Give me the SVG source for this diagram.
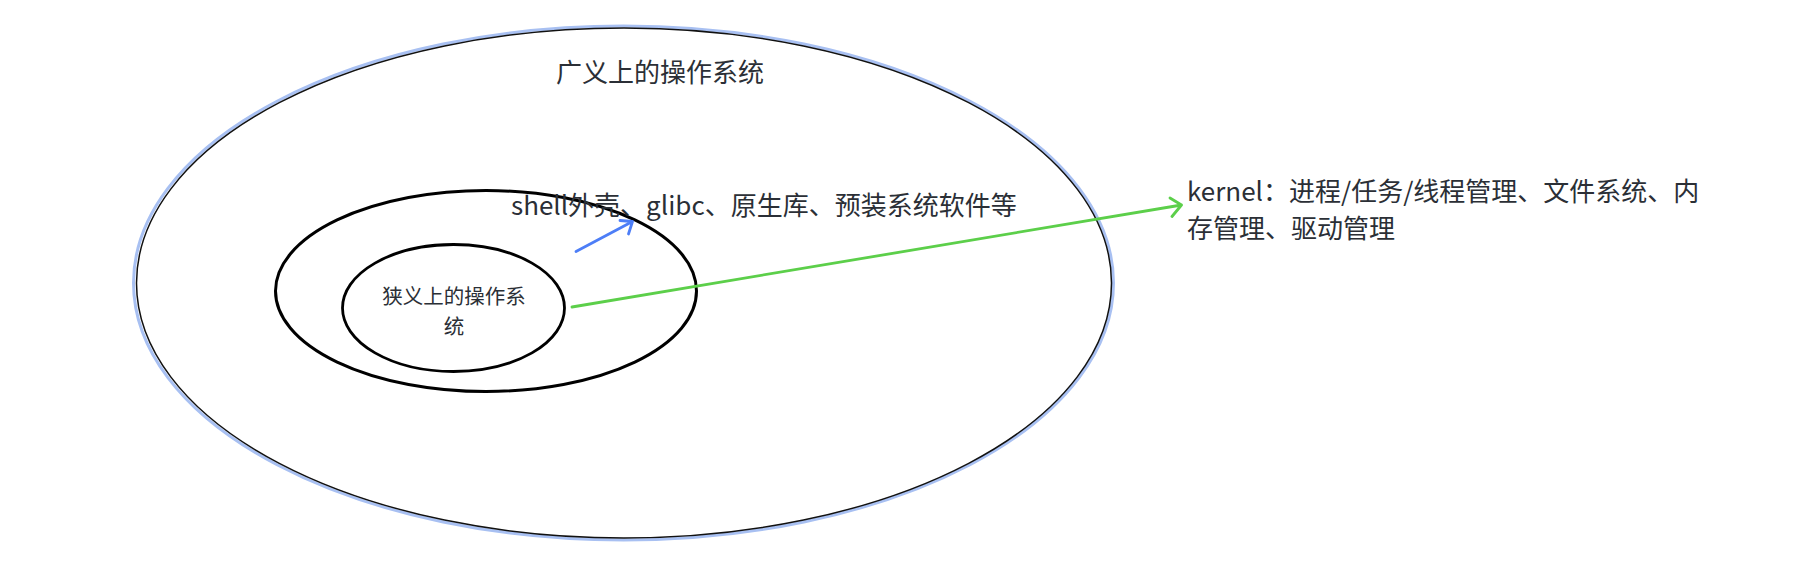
<svg xmlns="http://www.w3.org/2000/svg" width="1819" height="565" viewBox="0 0 1819 565">
<style>
text{font-family:"Noto Sans CJK SC","Noto Sans",sans-serif;fill:#2b2f36;dominant-baseline:central}
.big{font-size:26px}
.small{font-size:20.5px}
.conn{fill:none;stroke-width:2.8;stroke-linecap:round;stroke-linejoin:round}
</style>
<rect width="1819" height="565" fill="#ffffff"/>
<g id="outer">
<ellipse cx="623.5" cy="283" rx="490" ry="257" fill="none" stroke="#a8c0f2" stroke-width="3"/>
<ellipse cx="624" cy="283" rx="487.5" ry="255" fill="none" stroke="#111111" stroke-width="1.5"/>
<text class="big" x="660" y="70" text-anchor="middle">广义上的操作系统</text>
</g>
<g id="middle">
<ellipse cx="486" cy="291" rx="210.5" ry="100.5" fill="none" stroke="#000000" stroke-width="3"/>
<text class="big" x="511" y="203">shell外壳、glibc、原生库、预装系统软件等</text>
</g>
<g id="inner">
<ellipse cx="453.5" cy="308" rx="111" ry="63.5" fill="none" stroke="#000000" stroke-width="2.8"/>
<text class="small" x="454" y="295" text-anchor="middle">狭义上的操作系</text>
<text class="small" x="454" y="325" text-anchor="middle">统</text>
</g>
<g id="kernel">
<text class="big" x="1187" y="189">kernel：进程/任务/线程管理、文件系统、内</text>
<text class="big" x="1187" y="226">存管理、驱动管理</text>
</g>
<g id="connectors">
<path class="conn" stroke="#4d7ef7" d="M576 251.5 L632.5 221.5 M620 220.5 L632.5 221.5 L628.5 234"/>
<path class="conn" stroke="#5ccf4a" d="M572 307 L1181.5 205 M1170 198 L1181.5 205 L1172 216.5"/>
</g>
</svg>
